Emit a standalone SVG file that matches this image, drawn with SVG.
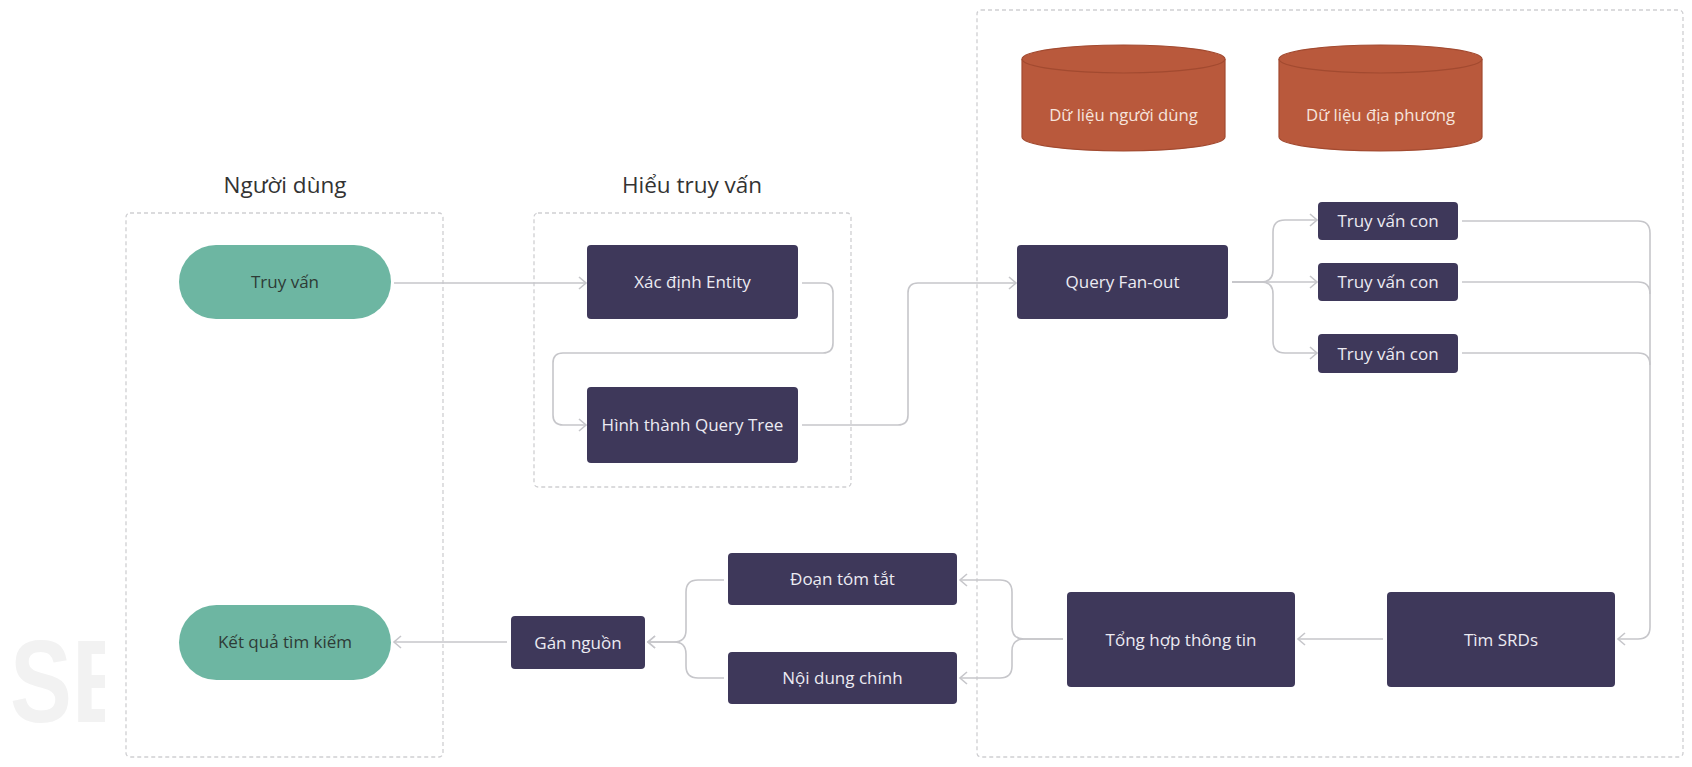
<svg xmlns="http://www.w3.org/2000/svg" width="1692" height="767" viewBox="0 0 1692 767">
<style>
.bg{fill:#ffffff}
.group{fill:none;stroke:#cfcfd2;stroke-width:1.3;stroke-dasharray:4 3}
.title{font-family:"Open Sans","Noto Sans","Liberation Sans",sans-serif;font-size:22.5px;fill:#333333;text-anchor:middle}
.node{fill:#3e385a}
.pill{fill:#6db6a2}
.ntext{font-family:"Open Sans","Noto Sans","Liberation Sans",sans-serif;font-size:17px;fill:#ecebf2;text-anchor:middle}
.ptext{font-family:"Open Sans","Noto Sans","Liberation Sans",sans-serif;font-size:17px;fill:#2e3b36;text-anchor:middle}
.db{fill:#b9593c;stroke:#a24a30;stroke-width:1.2}
.dbtext{font-family:"Open Sans","Noto Sans","Liberation Sans",sans-serif;font-size:16.7px;fill:#f6e4dc;text-anchor:middle}
.conn{fill:none;stroke:#c6c6ca;stroke-width:1.6}
.arr{marker-end:url(#chev)}
.wm{font-family:"Liberation Sans",Arial,sans-serif;font-weight:bold;font-size:116px;fill:#f2f2f2}
</style>
<defs>
<marker id="chev" markerUnits="userSpaceOnUse" markerWidth="12" markerHeight="14" refX="8" refY="7" orient="auto">
<path d="M1,1 L8,7 L1,13" fill="none" stroke="#c6c6ca" stroke-width="1.6"/>
</marker>
<clipPath id="wmclip"><rect x="0" y="600" width="105" height="140"/></clipPath>
</defs>
<rect class="bg" x="0" y="0" width="1692" height="767"/>
<g id="watermark" clip-path="url(#wmclip)"><text class="wm" transform="translate(10 722) scale(0.8 1)" x="0" y="0">SE</text></g>

<g id="group-nguoi-dung">
<rect class="group" x="126" y="213" width="317" height="544" rx="4"/>
<text class="title" x="285" y="193">Người dùng</text>
</g>
<g id="group-hieu-truy-van">
<rect class="group" x="534" y="213" width="317" height="274" rx="4"/>
<text class="title" x="692" y="193">Hiểu truy vấn</text>
</g>
<g id="group-xu-ly">
<rect class="group" x="977" y="10" width="706" height="747" rx="4"/>
</g>

<g id="connectors">
<path class="conn arr" d="M394 283 H586"/>
<path class="conn arr" d="M802 283 H823 Q833 283 833 293 V343 Q833 353 823 353 H563 Q553 353 553 363 V415 Q553 425 563 425 H586"/>
<path class="conn arr" d="M802 425 H898 Q908 425 908 415 V293 Q908 283 918 283 H1016"/>
<path class="conn arr" d="M1232 282 H1261 Q1273 282 1273 270 V232 Q1273 220 1285 220 H1317"/>
<path class="conn arr" d="M1232 282 H1317"/>
<path class="conn arr" d="M1232 282 H1261 Q1273 282 1273 294 V341 Q1273 353 1285 353 H1317"/>
<path class="conn" d="M1462 221 H1638 Q1650 221 1650 233 V300"/>
<path class="conn" d="M1462 282 H1638 Q1650 282 1650 294"/>
<path class="conn" d="M1462 353 H1638 Q1650 353 1650 365"/>
<path class="conn arr" d="M1650 300 V627 Q1650 639 1638 639 H1618"/>
<path class="conn arr" d="M1383 639 H1298"/>
<path class="conn arr" d="M1063 639 H1024 Q1012 639 1012 627 V592 Q1012 580 1000 580 H960"/>
<path class="conn arr" d="M1063 639 H1024 Q1012 639 1012 651 V666 Q1012 678 1000 678 H960"/>
<path class="conn arr" d="M724 580 H698 Q686 580 686 592 V630 Q686 642 674 642 H648"/>
<path class="conn arr" d="M724 678 H698 Q686 678 686 666 V654 Q686 642 674 642 H648"/>
<path class="conn arr" d="M507 642 H394"/>
</g>

<g id="node-truy-van">
<rect class="pill" x="179" y="245" width="212" height="74" rx="37"/>
<text class="ptext" x="285" y="288">Truy vấn</text>
</g>
<g id="node-ket-qua">
<rect class="pill" x="179" y="605" width="212" height="75" rx="37.5"/>
<text class="ptext" x="285" y="648">Kết quả tìm kiếm</text>
</g>
<g id="node-xac-dinh-entity">
<rect class="node" x="587" y="245" width="211" height="74" rx="4"/>
<text class="ntext" x="692.5" y="288">Xác định Entity</text>
</g>
<g id="node-hinh-thanh">
<rect class="node" x="587" y="387" width="211" height="76" rx="4"/>
<text class="ntext" x="692.5" y="431">Hình thành Query Tree</text>
</g>
<g id="db-nguoi-dung">
<path class="db" d="M1022 59 A101.5 14 0 0 1 1225 59 V137 A101.5 14 0 0 1 1022 137 Z"/>
<path class="db" fill="none" d="M1022 59 A101.5 14 0 0 0 1225 59"/>
<text class="dbtext" x="1123.5" y="121">Dữ liệu người dùng</text>
</g>
<g id="db-dia-phuong">
<path class="db" d="M1279 59 A101.5 14 0 0 1 1482 59 V137 A101.5 14 0 0 1 1279 137 Z"/>
<path class="db" fill="none" d="M1279 59 A101.5 14 0 0 0 1482 59"/>
<text class="dbtext" x="1380.5" y="121">Dữ liệu địa phương</text>
</g>
<g id="node-fan-out">
<rect class="node" x="1017" y="245" width="211" height="74" rx="4"/>
<text class="ntext" x="1122.5" y="288">Query Fan-out</text>
</g>
<g id="node-con-1">
<rect class="node" x="1318" y="202" width="140" height="38" rx="4"/>
<text class="ntext" x="1388" y="227">Truy vấn con</text>
</g>
<g id="node-con-2">
<rect class="node" x="1318" y="263" width="140" height="38" rx="4"/>
<text class="ntext" x="1388" y="288">Truy vấn con</text>
</g>
<g id="node-con-3">
<rect class="node" x="1318" y="334" width="140" height="39" rx="4"/>
<text class="ntext" x="1388" y="359.5">Truy vấn con</text>
</g>
<g id="node-tim-srds">
<rect class="node" x="1387" y="592" width="228" height="95" rx="4"/>
<text class="ntext" x="1501" y="645.5">Tìm SRDs</text>
</g>
<g id="node-tong-hop">
<rect class="node" x="1067" y="592" width="228" height="95" rx="4"/>
<text class="ntext" x="1181" y="645.5">Tổng hợp thông tin</text>
</g>
<g id="node-doan-tom-tat">
<rect class="node" x="728" y="553" width="229" height="52" rx="4"/>
<text class="ntext" x="842.5" y="585">Đoạn tóm tắt</text>
</g>
<g id="node-noi-dung">
<rect class="node" x="728" y="652" width="229" height="52" rx="4"/>
<text class="ntext" x="842.5" y="684">Nội dung chính</text>
</g>
<g id="node-gan-nguon">
<rect class="node" x="511" y="616" width="134" height="53" rx="4"/>
<text class="ntext" x="578" y="648.5">Gán nguồn</text>
</g>
</svg>
